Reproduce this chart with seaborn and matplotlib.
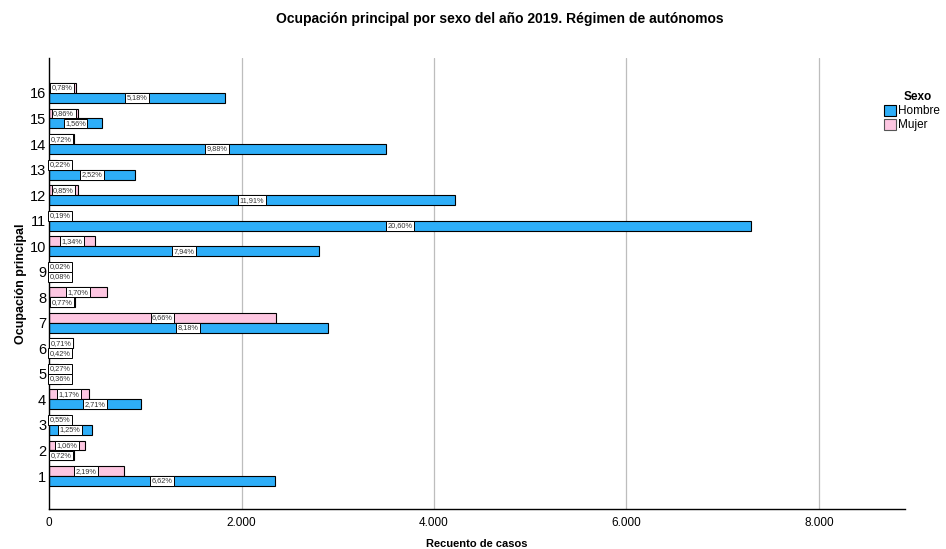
import matplotlib
matplotlib.use("Agg")
import matplotlib.pyplot as plt
from matplotlib.patches import Patch
from matplotlib.ticker import FuncFormatter
import seaborn as sns
import pandas as pd

# Datos (categorías 1..16)
ocupaciones = [str(i) for i in range(1, 17)]
hombre_casos = [2343, 255, 442, 959, 127, 149, 2895, 272, 28, 2810, 7290, 4215, 892, 3497, 552, 1833]
mujer_casos = [775, 375, 195, 414, 96, 251, 2357, 602, 7, 474, 67, 301, 78, 255, 304, 276]
hombre_pct = ["6,62%", "0,72%", "1,25%", "2,71%", "0,36%", "0,42%", "8,18%", "0,77%",
              "0,08%", "7,94%", "20,60%", "11,91%", "2,52%", "9,88%", "1,56%", "5,18%"]
mujer_pct = ["2,19%", "1,06%", "0,55%", "1,17%", "0,27%", "0,71%", "6,66%", "1,70%",
             "0,02%", "1,34%", "0,19%", "0,85%", "0,22%", "0,72%", "0,86%", "0,78%"]

palette = {"Hombre": "#2EAEF8", "Mujer": "#FDC6E1"}

df = pd.DataFrame({
    "Ocupación principal": ocupaciones * 2,
    "Recuento": hombre_casos + mujer_casos,
    "Sexo": ["Hombre"] * 16 + ["Mujer"] * 16,
})

sns.set_style("white")
plt.rcParams["font.family"] = ["Liberation Sans", "DejaVu Sans"]
plt.rcParams["text.color"] = "black"
plt.rcParams["axes.labelcolor"] = "black"
plt.rcParams["xtick.color"] = "black"
plt.rcParams["ytick.color"] = "black"

fig = plt.figure(figsize=(9.46, 5.49), dpi=100)
ax = fig.add_axes([0.0518, 0.0729, 0.9049, 0.8215])

orden = ocupaciones[::-1]
sns.barplot(data=df, y="Ocupación principal", x="Recuento", hue="Sexo",
            order=orden, hue_order=["Mujer", "Hombre"], palette=palette,
            saturation=1, orient="h", width=0.78, gap=0,
            edgecolor="black", linewidth=0.8, legend=False, ax=ax)

# etiquetas de porcentaje en cajas blancas
etiquetas = {"Hombre": dict(zip(ocupaciones, hombre_pct)),
             "Mujer": dict(zip(ocupaciones, mujer_pct))}
for cont, sexo in zip(ax.containers, ["Mujer", "Hombre"]):
    for bar, cat in zip(cont.patches, orden):
        w = bar.get_width()
        yc = bar.get_y() + bar.get_height() / 2
        ax.text(max(w / 2, 115), yc, etiquetas[sexo][cat], ha="center", va="center",
                fontsize=5.3, color="#333333",
                bbox=dict(boxstyle="square,pad=0.2", fc="white", ec="black", lw=0.7))

ax.set_xlim(0, 8894)
ax.set_ylim(16.29, -1.37)
ax.set_xticks([0, 2000, 4000, 6000, 8000])
ax.xaxis.set_major_formatter(FuncFormatter(lambda v, p: f"{int(v):,}".replace(",", ".")))
for g in [2000, 4000, 6000, 8000]:
    ax.axvline(g, color="#BDBDBD", lw=0.9, zorder=0)

ax.tick_params(axis="both", length=0)
ax.tick_params(axis="y", labelsize=10.5, pad=2)
ax.tick_params(axis="x", labelsize=8.5, pad=6)
for s in ["top", "right"]:
    ax.spines[s].set_visible(False)
for s in ["left", "bottom"]:
    ax.spines[s].set_color("black")
    ax.spines[s].set_linewidth(1)

ax.set_xlabel("Recuento de casos", fontsize=8, fontweight="bold", labelpad=7)
ax.set_ylabel("Ocupación principal", fontsize=9, fontweight="bold", labelpad=2)

fig.text(500 / 946, 1 - 19 / 549, "Ocupación principal por sexo del año 2019. Régimen de autónomos",
         ha="center", va="center", fontsize=10, fontweight="bold")

handles = [Patch(facecolor=palette["Hombre"], edgecolor="black", lw=0.8, label="Hombre"),
           Patch(facecolor=palette["Mujer"], edgecolor="#555555", lw=0.8, label="Mujer")]
leg = fig.legend(handles=handles, title="Sexo", loc="upper left",
                 bbox_to_anchor=(876 / 946, 1 - 83 / 549), frameon=False,
                 fontsize=8.5, title_fontproperties={"weight": "bold", "size": 8.5},
                 handlelength=1.0, handleheight=1.1, handletextpad=0.15,
                 labelspacing=0.12, borderpad=0.2)
leg.get_title().set_position((6, 0))

fig.savefig("out.png", dpi=100)
